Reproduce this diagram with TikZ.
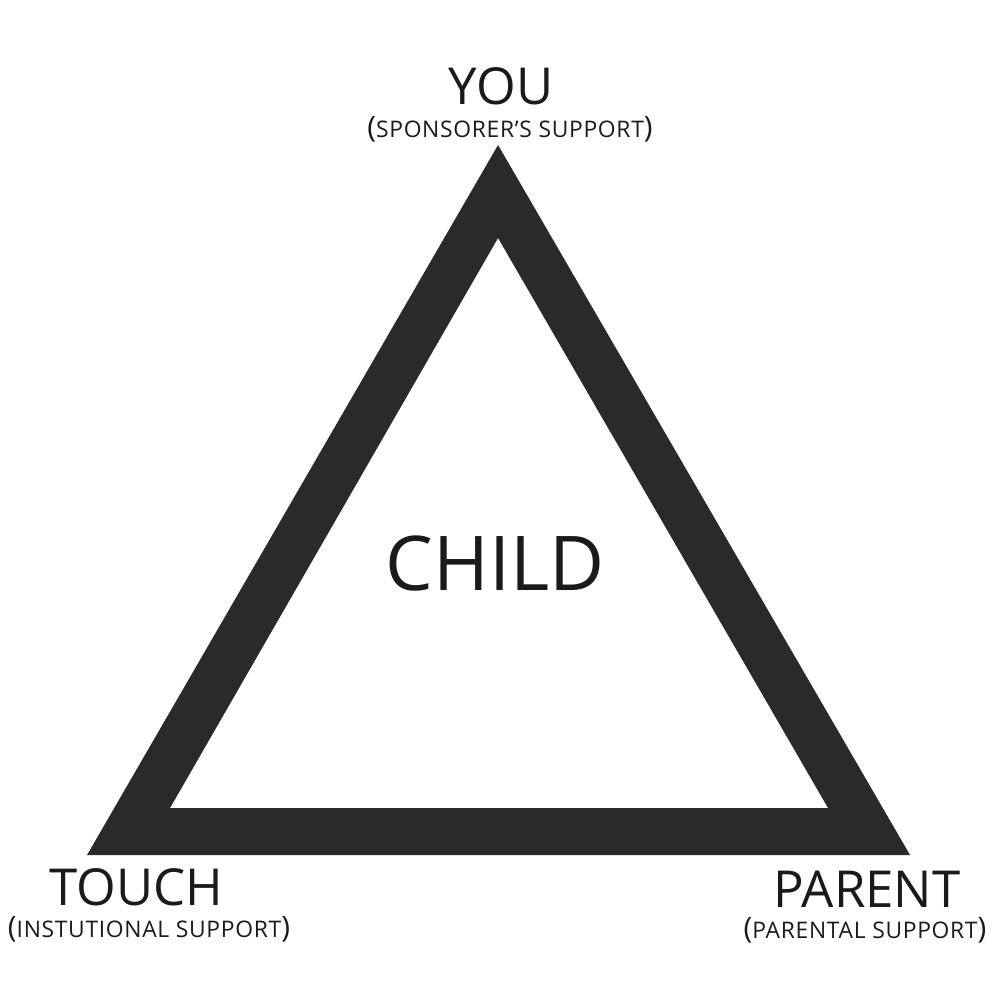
\documentclass[tikz,border=0pt]{standalone}
\usepackage{fontspec}
\setmainfont{Open Sans}
\usepackage{tikz}
\definecolor{tridark}{HTML}{2A2A2A}
\definecolor{inkdark}{HTML}{1A1A1A}
\newcommand{\bigword}[1]{\fontsize{14.5}{16}\selectfont #1}
\newcommand{\suppline}[1]{{\fontsize{8.4}{9}\selectfont(}{\fontsize{6.5}{7}\selectfont\addfontfeature{LetterSpace=3}#1}{\fontsize{8.4}{9}\selectfont)}}

\begin{document}
\begin{tikzpicture}[scale=0.1]
    \tikzstyle{every node}+=[inner sep=0pt, text=inkdark]
    \tikzstyle{corner}=[anchor=base, text depth=0pt]
    \useasboundingbox (0,0) rectangle (100,-100);
    \coordinate (top) at (49.8,-14.5);
    \coordinate (left) at (8.7,-85.5);
    \coordinate (right) at (91,-85.5);
    \coordinate (itop) at (49.8,-23.8);
    \coordinate (ileft) at (17,-80.8);
    \coordinate (iright) at (82.8,-80.8);
    \fill [tridark, even odd rule] (top) -- (left) -- (right) -- cycle
        (itop) -- (ileft) -- (iright) -- cycle;
    \node (you) [corner] at (50.1,-10.5) {\bigword{YOU}};
    \node (yousub) [anchor=base] at (51,-13.8) {\suppline{SPONSORER’S SUPPORT}};
    \node (child) [anchor=base] at (49.5,-59) {\fontsize{21.5}{24}\selectfont CHILD};
    \node (touch) [corner] at (13.6,-90.5) {\bigword{TOUCH}};
    \node (touchsub) [anchor=base] at (14.9,-93.7) {\suppline{INSTUTIONAL SUPPORT}};
    \node (parent) [corner] at (86.7,-90.7) {\bigword{PARENT}};
    \node (parentsub) [anchor=base] at (86.5,-93.8) {\suppline{PARENTAL SUPPORT}};
\end{tikzpicture}
\end{document}
